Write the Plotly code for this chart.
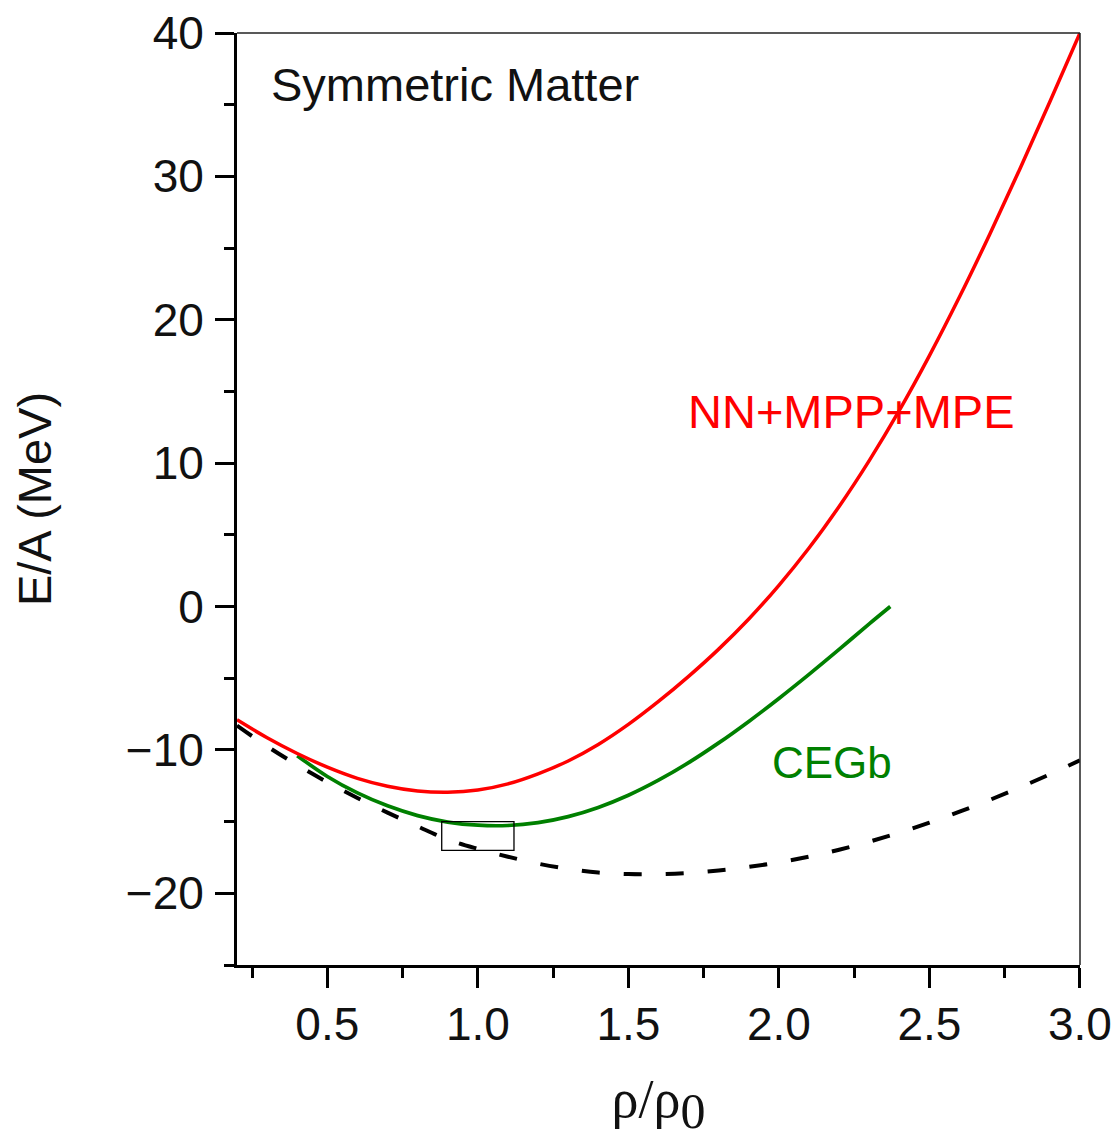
import plotly.graph_objects as go

# --- data ---
x_red = [0.2, 0.3, 0.4, 0.5, 0.6, 0.7, 0.8, 0.9, 1.0, 1.1, 1.2, 1.3, 1.4, 1.5, 1.6, 1.7, 1.8,
         1.9, 2.0, 2.1, 2.2, 2.3, 2.4, 2.5, 2.6, 2.7, 2.8, 2.9, 3.0]
y_red = [-7.9, -9.15, -10.25, -11.2, -11.98, -12.53, -12.86, -12.95, -12.8, -12.37, -11.67,
         -10.77, -9.62, -8.22, -6.62, -4.87, -2.97, -0.87, 1.48, 4.08, 6.98, 10.18, 13.68,
         17.5, 21.6, 25.95, 30.5, 35.2, 40.0]

x_green = [0.4, 0.5, 0.6, 0.7, 0.8, 0.9, 1.0, 1.1, 1.2, 1.3, 1.4, 1.5, 1.6, 1.7, 1.8, 1.9,
           2.0, 2.1, 2.2, 2.3, 2.37]
y_green = [-10.4, -11.85, -13.0, -13.9, -14.58, -15.03, -15.25, -15.27, -15.07, -14.65,
           -14.01, -13.16, -12.11, -10.89, -9.51, -8.01, -6.41, -4.73, -2.99, -1.21, 0.0]

x_black = [0.2, 0.3, 0.4, 0.5, 0.6, 0.7, 0.8, 0.9, 1.0, 1.1, 1.2, 1.3, 1.4, 1.5, 1.6, 1.7,
           1.8, 1.9, 2.0, 2.1, 2.2, 2.3, 2.4, 2.5, 2.6, 2.7, 2.8, 2.9, 3.0]
y_black = [-8.3, -9.75, -11.05, -12.25, -13.35, -14.37, -15.33, -16.25, -16.9, -17.45,
           -17.93, -18.3, -18.55, -18.66, -18.66, -18.58, -18.41, -18.16, -17.84, -17.44,
           -16.96, -16.4, -15.77, -15.07, -14.31, -13.49, -12.62, -11.7, -10.73]

# saturation box (rho/rho0 range, E/A range)
box_x = [0.88, 1.12]
box_y = [-17.0, -15.0]

FONT = "Liberation Sans, Arial, sans-serif"

fig = go.Figure()
fig.add_trace(go.Scatter(x=x_black, y=y_black, mode="lines", line_shape="spline",
                         line=dict(color="black", width=4, dash="18px,24px"),
                         showlegend=False))
fig.add_trace(go.Scatter(x=x_green, y=y_green, mode="lines", line_shape="spline",
                         line=dict(color="#008000", width=3.7), showlegend=False))
fig.add_trace(go.Scatter(x=x_red, y=y_red, mode="lines", line_shape="spline",
                         line=dict(color="#FF0000", width=3.5), showlegend=False))

fig.add_shape(type="rect", xref="x", yref="y", x0=box_x[0], x1=box_x[1],
              y0=box_y[0], y1=box_y[1], line=dict(color="black", width=1.3))
# thin top and right frame lines
fig.add_shape(type="line", xref="paper", yref="paper", x0=0, x1=1, y0=1, y1=1,
              line=dict(color="#222", width=1.5))
fig.add_shape(type="line", xref="paper", yref="paper", x0=1, x1=1, y0=0, y1=1,
              line=dict(color="#222", width=1.5))

fig.add_annotation(x=0.305, y=36.4, text="Symmetric Matter", showarrow=False,
                   xanchor="left", yanchor="middle",
                   font=dict(family=FONT, size=47, color="#111"))
fig.add_annotation(x=1.692, y=13.6, text="NN+MPP+MPE", showarrow=False,
                   xanchor="left", yanchor="middle",
                   font=dict(family=FONT, size=47, color="#FF0000"))
fig.add_annotation(x=1.97, y=-10.9, text="CEGb", showarrow=False,
                   xanchor="left", yanchor="middle",
                   font=dict(family=FONT, size=44, color="#008000"))

fig.update_layout(
    width=1118, height=1147,
    margin=dict(l=237, r=38, t=33, b=182),
    paper_bgcolor="white", plot_bgcolor="white",
    font=dict(family=FONT, color="#111"),
)
fig.update_xaxes(
    range=[0.2, 3.0001], showgrid=False, zeroline=False, automargin=False,
    showline=True, linecolor="black", linewidth=3,
    ticks="outside", ticklen=20, tickwidth=3, tickcolor="black",
    tick0=0, dtick=0.5, tickformat=".1f",
    tickfont=dict(family=FONT, size=46, color="#111"),
    ticklabelstandoff=-3,
    minor=dict(ticks="outside", ticklen=10, tickwidth=3, tickcolor="black",
               tick0=0.25, dtick=0.5, showgrid=False),
    title=dict(text='ρ/ρ<sub><span style="font-size:50px">0</span></sub>', standoff=30,
               font=dict(family="Liberation Serif, serif", size=54, color="#111")),
)
fig.update_yaxes(
    range=[-25, 40], showgrid=False, zeroline=False, automargin=False,
    showline=True, linecolor="black", linewidth=3,
    ticks="outside", ticklen=19, tickwidth=3, tickcolor="black",
    tick0=0, dtick=10,
    tickfont=dict(family=FONT, size=46, color="#111"),
    ticklabelstandoff=2,
    minor=dict(ticks="outside", ticklen=10, tickwidth=3, tickcolor="black",
               tick0=5, dtick=10, showgrid=False),
    title=dict(text="E/A (MeV)", standoff=60,
               font=dict(family=FONT, size=47, color="#111")),
)

fig.write_html("out.html")
